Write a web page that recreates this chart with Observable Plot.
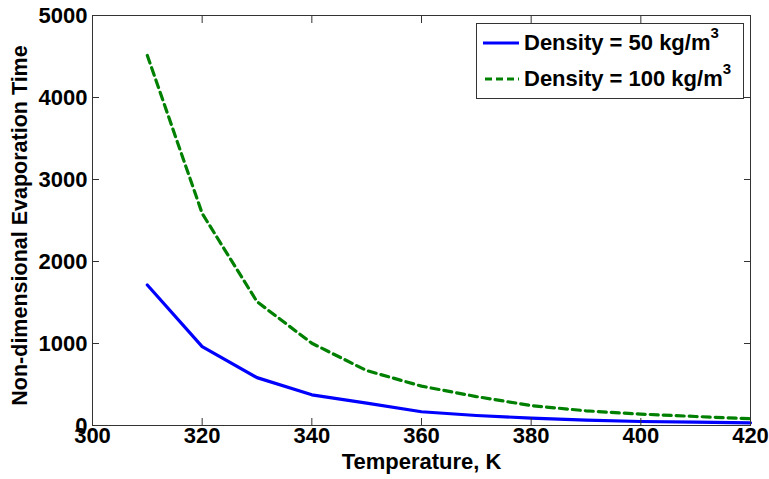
<!DOCTYPE html>
<html>
<head>
<meta charset="utf-8">
<script src="https://cdn.jsdelivr.net/npm/d3@7"></script>
<script src="https://cdn.jsdelivr.net/npm/@observablehq/plot@0.6"></script>
<style>
  html, body { margin: 0; padding: 0; background: #fff; }
  #wrap { position: relative; width: 769px; height: 479px; font-family: "Liberation Sans", Arial, sans-serif; font-weight: bold; }
  #legend { position: absolute; left: 476px; top: 23px; width: 268px; height: 76px; border: 1px solid #333; background: #fff; box-sizing: border-box; }
  .row { position: absolute; left: 6px; display: flex; align-items: center; font-size: 22px; color: #000; white-space: nowrap; }
  .row svg { margin-right: 5px; }
  sup { font-size: 15px; position: relative; top: -4px; vertical-align: super; line-height: 0; }
</style>
</head>
<body>
<div id="wrap">
  <div id="chart"></div>
  <div id="legend">
    <div class="row" style="top:6px"><svg width="36" height="8"><line x1="0" y1="4" x2="36" y2="4" stroke="#0000ff" stroke-width="3"/></svg><span id="l1"></span></div>
    <div class="row" style="top:42px"><svg width="36" height="8"><line x1="2" y1="4" x2="36" y2="4" stroke="#008000" stroke-width="3" stroke-dasharray="7,4"/></svg><span id="l2"></span></div>
  </div>
</div>
<script>
const temps = [310, 320, 330, 340, 350, 360, 370, 380, 390, 400, 410, 420];
const density50 = [1713, 962, 584, 374, 273, 168, 122, 90, 66, 49, 41, 33];
const density100 = [4513, 2586, 1510, 1003, 670, 480, 353, 243, 179, 139, 110, 82];
const seriesNames = ["Density = 50 kg/m", "Density = 100 kg/m"];
const xTicks = [300, 320, 340, 360, 380, 400, 420];
const yTicks = [0, 1000, 2000, 3000, 4000, 5000];
const xLabel = "Temperature, K";
const yLabel = "Non-dimensional Evaporation Time";

document.getElementById("l1").innerHTML = seriesNames[0] + "<sup>3</sup>";
document.getElementById("l2").innerHTML = seriesNames[1] + "<sup>3</sup>";

const rows50 = temps.map((t, i) => ({t, v: density50[i]}));
const rows100 = temps.map((t, i) => ({t, v: density100[i]}));

const chart = Plot.plot({
  width: 769,
  height: 479,
  marginLeft: 92,
  marginRight: 19,
  marginTop: 15,
  marginBottom: 54,
  x: {domain: [300, 420]},
  y: {domain: [0, 5000]},
  style: {fontFamily: "'Liberation Sans', Arial, sans-serif", fontWeight: "bold", color: "#000", background: "#fff"},
  marks: [
    Plot.line(rows100, {x: "t", y: "v", stroke: "#008000", strokeWidth: 3.2, strokeDasharray: "8,5"}),
    Plot.line(rows50, {x: "t", y: "v", stroke: "#0000ff", strokeWidth: 3.2}),
    Plot.frame({stroke: "#333", strokeWidth: 1}),
    Plot.axisX(xTicks, {anchor: "bottom", tickSize: -7, tickFormat: () => "", label: null, stroke: "#333"}),
    Plot.axisX(xTicks, {anchor: "top", tickSize: -7, tickFormat: () => "", label: null, stroke: "#333"}),
    Plot.axisY(yTicks, {anchor: "left", tickSize: -7, tickFormat: () => "", label: null, stroke: "#333"}),
    Plot.axisY(yTicks, {anchor: "right", tickSize: -7, tickFormat: () => "", label: null, stroke: "#333"}),
    Plot.axisX(xTicks, {anchor: "bottom", tickSize: 0, tickPadding: 2, fontSize: 22, fontWeight: "bold", label: null, tickFormat: d => String(d)}),
    Plot.axisY(yTicks, {anchor: "left", tickSize: 0, tickPadding: 5, fontSize: 22, fontWeight: "bold", label: null, tickFormat: d => String(d)}),
    Plot.text([xLabel], {frameAnchor: "bottom", dy: 43, fontSize: 22, fontWeight: "bold", fill: "#000"}),
    Plot.text([yLabel], {frameAnchor: "left", textAnchor: "middle", rotate: -90, dx: -72, dy: 5, fontSize: 21.5, fontWeight: "bold", fill: "#000"})
  ]
});
document.getElementById("chart").appendChild(chart);
</script>
</body>
</html>
